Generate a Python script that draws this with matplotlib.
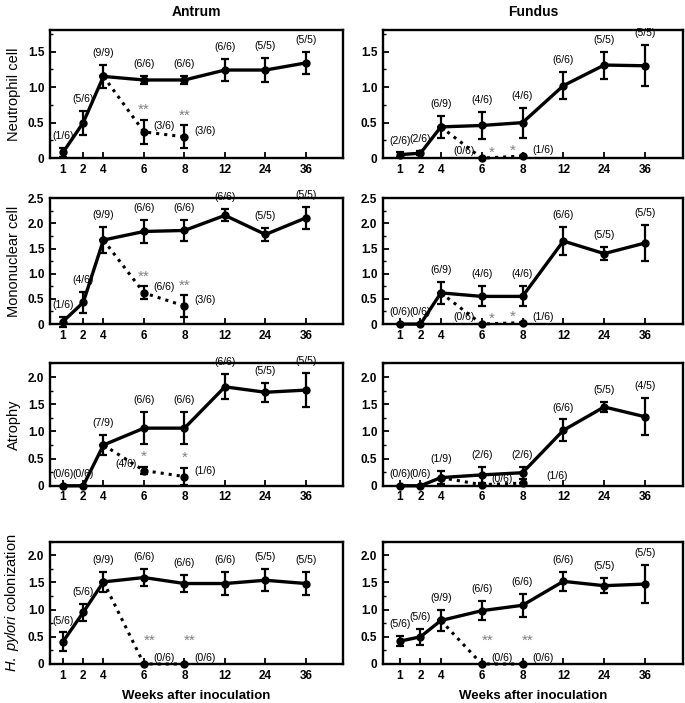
import numpy as np
import matplotlib
matplotlib.use("Agg")
import matplotlib.pyplot as plt

plt.rcParams["font.family"] = ["Liberation Sans", "DejaVu Sans"]
plt.rcParams["mathtext.fontset"] = "custom"
plt.rcParams["mathtext.rm"] = "Liberation Sans"
plt.rcParams["mathtext.it"] = "Liberation Sans:italic"

# x categories (weeks after inoculation)
weeks = ["1", "2", "4", "6", "8", "12", "24", "36"]
week_pos = [0, 0.5, 1, 2, 3, 4, 5, 6]   # spacing used on the original axis

# ---------------- Antrum ----------------
an_neut = [0.08, 0.50, 1.15, 1.10, 1.10, 1.24, 1.24, 1.34]
an_neut_err = [0.07, 0.17, 0.16, 0.06, 0.06, 0.15, 0.17, 0.16]
an_neut_n = ["(1/6)", "(5/6)", "(9/9)", "(6/6)", "(6/6)", "(6/6)", "(5/5)", "(5/5)"]
an_neut_dot = [1.15, 0.37, 0.30]
an_neut_dot_err = [0, 0.17, 0.16]
an_neut_dot_n = ["(3/6)", "(3/6)"]
an_neut_star = ["**", "**"]

an_mono = [0.05, 0.43, 1.67, 1.84, 1.86, 2.16, 1.78, 2.11]
an_mono_err = [0.10, 0.20, 0.26, 0.22, 0.20, 0.12, 0.13, 0.22]
an_mono_n = ["(1/6)", "(4/6)", "(9/9)", "(6/6)", "(6/6)", "(6/6)", "(5/5)", "(5/5)"]
an_mono_dot = [1.67, 0.62, 0.36]
an_mono_dot_err = [0, 0.13, 0.21]
an_mono_dot_n = ["(6/6)", "(3/6)"]
an_mono_star = ["**", "**"]

an_atro = [0, 0, 0.75, 1.06, 1.06, 1.82, 1.72, 1.76]
an_atro_err = [0, 0, 0.19, 0.29, 0.29, 0.23, 0.17, 0.32]
an_atro_n = ["(0/6)", "(0/6)", "(7/9)", "(6/6)", "(6/6)", "(6/6)", "(5/5)", "(5/5)"]
an_atro_dot = [0.75, 0.28, 0.17]
an_atro_dot_err = [0, 0.07, 0.16]
an_atro_dot_n = ["(4/6)", "(1/6)"]
an_atro_star = ["*", "*"]

an_hp = [0.41, 0.95, 1.51, 1.59, 1.48, 1.48, 1.54, 1.48]
an_hp_err = [0.17, 0.16, 0.18, 0.16, 0.15, 0.21, 0.20, 0.22]
an_hp_n = ["(5/6)", "(5/6)", "(9/9)", "(6/6)", "(6/6)", "(6/6)", "(5/5)", "(5/5)"]
an_hp_dot = [1.51, 0, 0]
an_hp_dot_err = [0, 0, 0]
an_hp_dot_n = ["(0/6)", "(0/6)"]
an_hp_star = ["**", "**"]

# ---------------- Fundus ----------------
fu_neut = [0.05, 0.07, 0.44, 0.46, 0.50, 1.02, 1.31, 1.30]
fu_neut_err = [0.03, 0.03, 0.15, 0.19, 0.21, 0.19, 0.19, 0.29]
fu_neut_n = ["(2/6)", "(2/6)", "(6/9)", "(4/6)", "(4/6)", "(6/6)", "(5/5)", "(5/5)"]
fu_neut_dot = [0.44, 0, 0.03]
fu_neut_dot_err = [0, 0, 0]
fu_neut_dot_n = ["(0/6)", "(1/6)"]
fu_neut_star = ["*", "*"]

fu_mono = [0, 0, 0.62, 0.55, 0.55, 1.65, 1.40, 1.61]
fu_mono_err = [0, 0, 0.22, 0.20, 0.20, 0.27, 0.13, 0.36]
fu_mono_n = ["(0/6)", "(0/6)", "(6/9)", "(4/6)", "(4/6)", "(6/6)", "(5/5)", "(5/5)"]
fu_mono_dot = [0.62, 0, 0.03]
fu_mono_dot_err = [0, 0, 0]
fu_mono_dot_n = ["(0/6)", "(1/6)"]
fu_mono_star = ["*", "*"]

fu_atro = [0, 0, 0.15, 0.20, 0.24, 1.02, 1.45, 1.27]
fu_atro_err = [0, 0, 0.12, 0.15, 0.11, 0.20, 0.10, 0.34]
fu_atro_n = ["(0/6)", "(0/6)", "(1/9)", "(2/6)", "(2/6)", "(6/6)", "(5/5)", "(4/5)"]
fu_atro_dot = [0.15, 0.02, 0.05]
fu_atro_dot_err = [0, 0, 0]
fu_atro_dot_n = ["(0/6)", "(1/6)"]
fu_atro_star = ["", ""]

fu_hp = [0.42, 0.50, 0.80, 0.98, 1.08, 1.52, 1.44, 1.47]
fu_hp_err = [0.09, 0.15, 0.20, 0.18, 0.21, 0.18, 0.14, 0.35]
fu_hp_n = ["(5/6)", "(5/6)", "(9/9)", "(6/6)", "(6/6)", "(6/6)", "(5/5)", "(5/5)"]
fu_hp_dot = [0.80, 0, 0]
fu_hp_dot_err = [0, 0, 0]
fu_hp_dot_n = ["(0/6)", "(0/6)"]
fu_hp_star = ["**", "**"]

ylabels = ["Neutrophil cell", "Mononuclear cell", "Atrophy",
           r"$\it{H.\ pylori}$ colonization"]
ylims = [1.8, 2.5, 2.25, 2.25]
yticks = [[0, 0.5, 1.0, 1.5], [0, 0.5, 1.0, 1.5, 2.0, 2.5],
          [0, 0.5, 1.0, 1.5, 2.0], [0, 0.5, 1.0, 1.5, 2.0]]

# where star / count text goes for the dotted points: (star side, count side)
antrum_sides = [[("up", "r"), ("up", "r")], [("up", "r"), ("up", "r")],
                [("up", "l"), ("up", "r")], [("upr", "r"), ("upr", "r")]]
fundus_sides = [[("r", "l"), ("l", "r")], [("r", "l"), ("l", "r")],
                [("", "r"), ("", "rr")], [("upr", "r"), ("upr", "r")]]

antrum = [
    (an_neut, an_neut_err, an_neut_n, an_neut_dot, an_neut_dot_err, an_neut_dot_n, an_neut_star),
    (an_mono, an_mono_err, an_mono_n, an_mono_dot, an_mono_dot_err, an_mono_dot_n, an_mono_star),
    (an_atro, an_atro_err, an_atro_n, an_atro_dot, an_atro_dot_err, an_atro_dot_n, an_atro_star),
    (an_hp, an_hp_err, an_hp_n, an_hp_dot, an_hp_dot_err, an_hp_dot_n, an_hp_star),
]
fundus = [
    (fu_neut, fu_neut_err, fu_neut_n, fu_neut_dot, fu_neut_dot_err, fu_neut_dot_n, fu_neut_star),
    (fu_mono, fu_mono_err, fu_mono_n, fu_mono_dot, fu_mono_dot_err, fu_mono_dot_n, fu_mono_star),
    (fu_atro, fu_atro_err, fu_atro_n, fu_atro_dot, fu_atro_dot_err, fu_atro_dot_n, fu_atro_star),
    (fu_hp, fu_hp_err, fu_hp_n, fu_hp_dot, fu_hp_dot_err, fu_hp_dot_n, fu_hp_star),
]

fig = plt.figure(figsize=(6.85, 7.03), dpi=100)

row_box = [(0.775, 0.182), (0.539, 0.179), (0.309, 0.174), (0.0555, 0.174)]
col_box = [(0.073, 0.428), (0.559, 0.438)]
col_xlim = [(-0.32, 6.92), (-0.42, 6.93)]

LBL = dict(fontsize=7.5)
STAR = dict(fontsize=11, color="#808080")


def draw_panel(ax, panel, sides, ymax, ticks):
    mean, err, n, dot, dot_err, dot_n, star = panel
    dot_x = week_pos[2:5]
    # dotted (drop-out) series
    ax.errorbar(dot_x, dot, yerr=dot_err, color="black", ls=":", lw=2.2,
                marker="o", ms=5, capsize=3, elinewidth=1.6, capthick=1.6,
                clip_on=False, zorder=3)
    # main series
    ax.errorbar(week_pos, mean, yerr=err, color="black", ls="-", lw=2.4,
                marker="o", ms=5, capsize=3, elinewidth=1.6, capthick=1.6,
                clip_on=False, zorder=4)
    for x, m, e, t in zip(week_pos, mean, err, n):
        ax.annotate(t, (x, m + e), xytext=(0, 5), textcoords="offset points",
                    ha="center", va="bottom", **LBL)
    for i in range(2):
        x, m, e = dot_x[i + 1], dot[i + 1], dot_err[i + 1]
        s_side, c_side = sides[i]
        if s_side == "up":
            ax.annotate(star[i], (x, m + e), xytext=(0, 2), textcoords="offset points",
                        ha="center", va="bottom", **STAR)
        elif s_side == "upr":
            ax.annotate(star[i], (x, m), xytext=(4, 12), textcoords="offset points",
                        ha="center", va="bottom", **STAR)
        elif s_side == "r":
            ax.annotate(star[i], (x, m), xytext=(7, -1), textcoords="offset points",
                        ha="center", va="bottom", **STAR)
        elif s_side == "l":
            ax.annotate(star[i], (x, m), xytext=(-7, -1), textcoords="offset points",
                        ha="center", va="bottom", **STAR)
        if c_side == "r":
            ax.annotate(dot_n[i], (x, m), xytext=(7, 4), textcoords="offset points",
                        ha="left", va="center", **LBL)
        elif c_side == "rr":
            ax.annotate(dot_n[i], (x, m), xytext=(17, 5), textcoords="offset points",
                        ha="left", va="center", **LBL)
        elif c_side == "l":
            ax.annotate(dot_n[i], (x, m), xytext=(-5, 5), textcoords="offset points",
                        ha="right", va="center", **LBL)
    ax.set_ylim(0, ymax)
    ax.set_yticks(ticks)
    ax.set_yticklabels(["0" if v == 0 else f"{v:.1f}" for v in ticks],
                       fontsize=8.5, fontweight="bold")
    ax.set_yticks(np.arange(0, ymax + 0.01, 0.25), minor=True)
    ax.set_xticks(week_pos)
    ax.set_xticklabels(weeks, fontsize=8.5, fontweight="bold")
    ax.tick_params(axis="both", which="major", direction="in", length=4, width=1.3, pad=4)
    ax.tick_params(axis="y", which="minor", direction="in", length=2.5, width=1.0)
    for sp in ax.spines.values():
        sp.set_linewidth(1.7)


for r in range(4):
    for c, (panels, sides) in enumerate([(antrum, antrum_sides), (fundus, fundus_sides)]):
        x0, w = col_box[c]
        y0, h = row_box[r]
        ax = fig.add_axes([x0, y0, w, h])
        ax.set_xlim(*col_xlim[c])
        draw_panel(ax, panels[r], sides[r], ylims[r], yticks[r])
        if c == 0:
            ax.set_ylabel(ylabels[r], fontsize=10.5, labelpad=5)
        if r == 0:
            ax.set_title(["Antrum", "Fundus"][c], fontsize=10, fontweight="bold", pad=10)
        if r == 3:
            ax.set_xlabel("Weeks after inoculation", fontsize=9.5, fontweight="bold", labelpad=6)

fig.savefig("out.png", dpi=100)
